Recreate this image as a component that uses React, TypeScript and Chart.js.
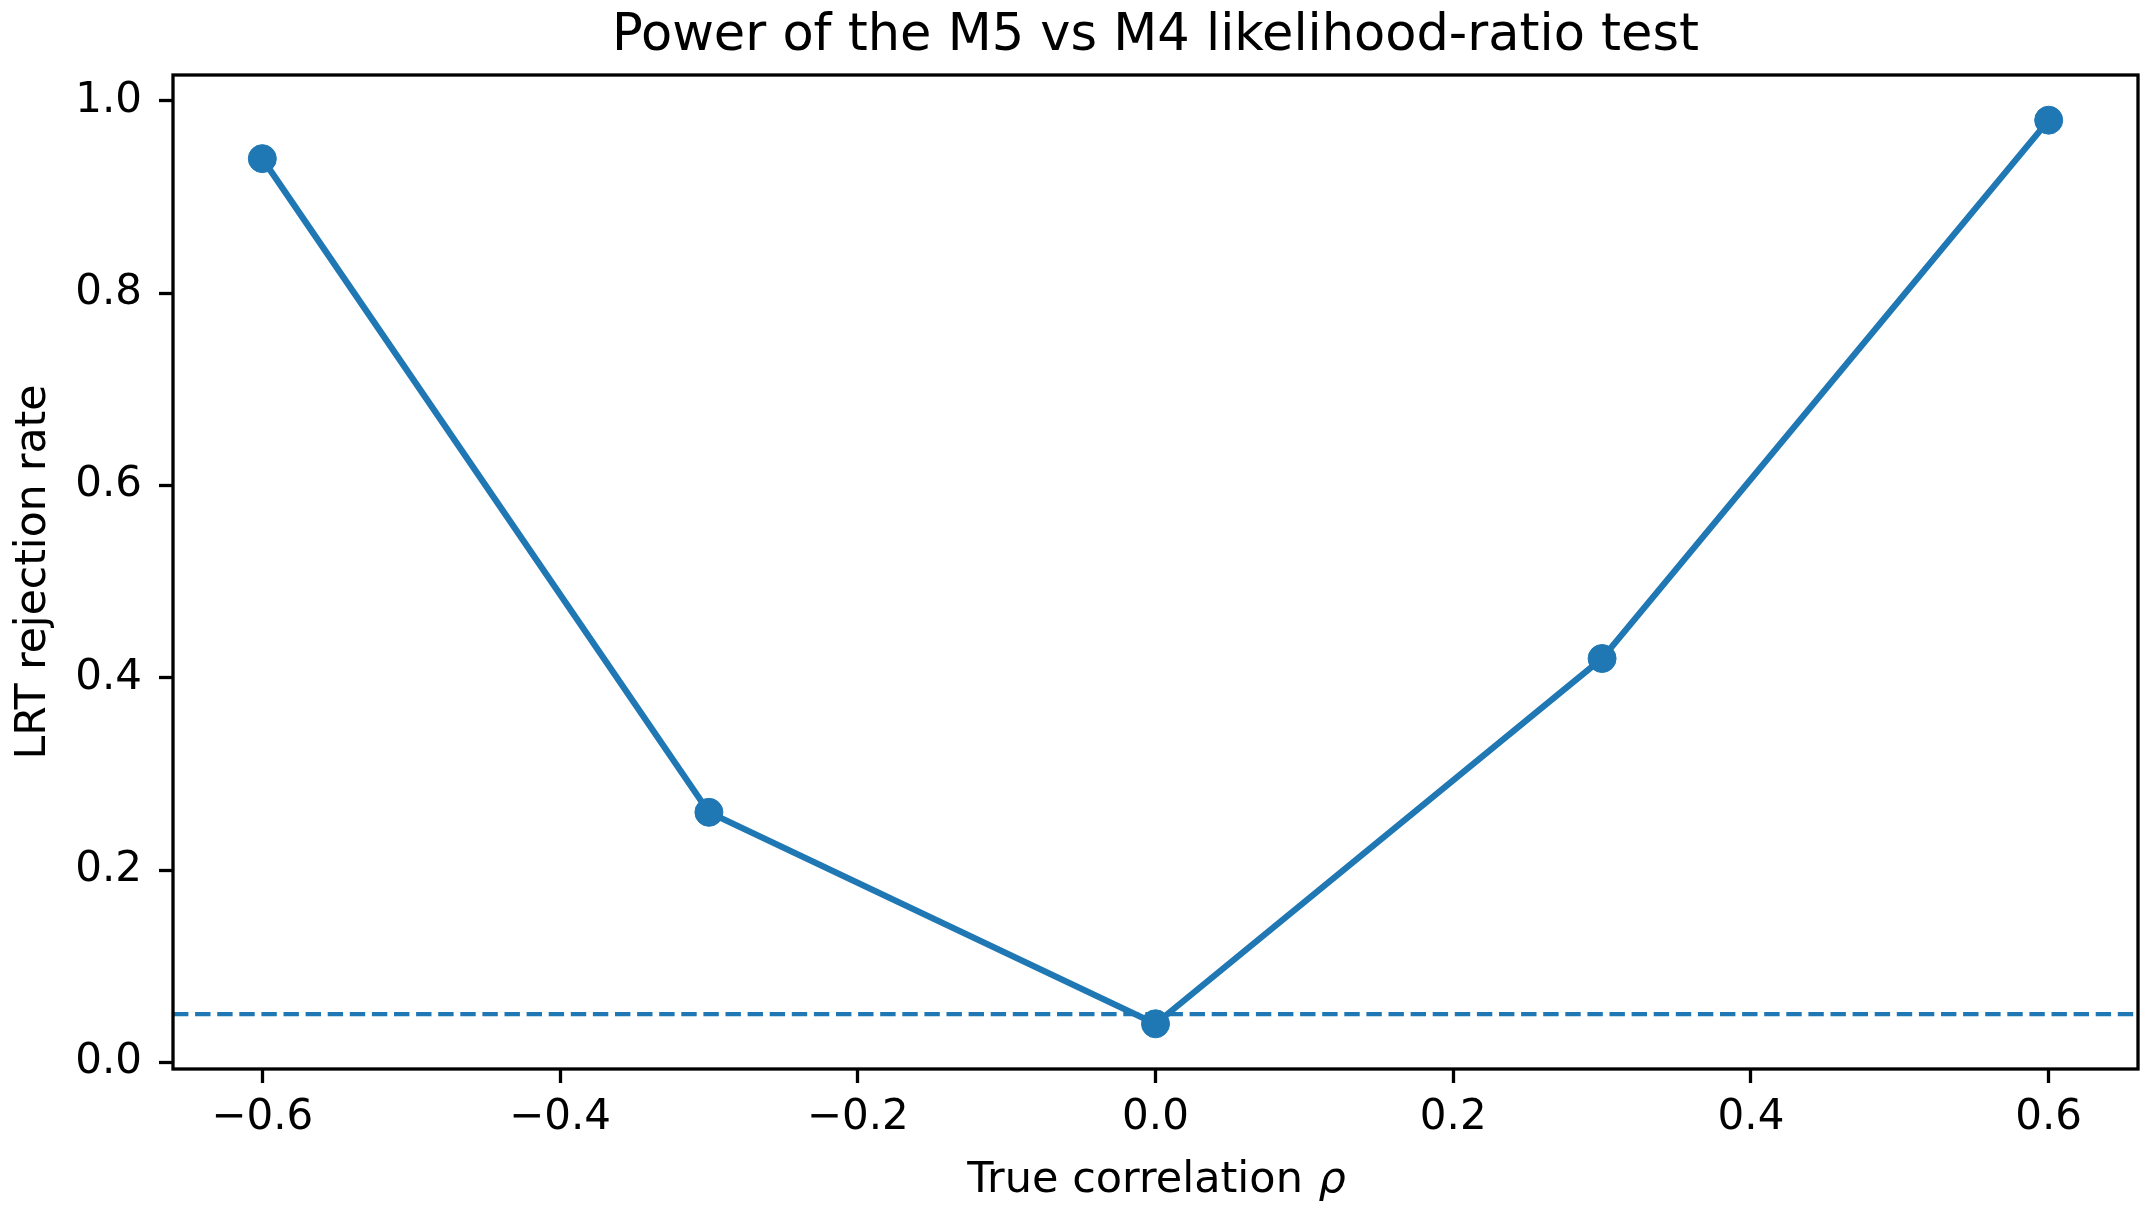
import { useEffect, useRef } from 'react';
import { Chart, registerables } from 'chart.js';

Chart.register(...registerables);

// data
const rho = [-0.6, -0.3, 0.0, 0.3, 0.6];
const rejectionRate = [0.94, 0.26, 0.04, 0.42, 0.98];
const alphaLevel = 0.05;

const xTicks = [-0.6, -0.4, -0.2, 0.0, 0.2, 0.4, 0.6];
const yTicks = [0.0, 0.2, 0.4, 0.6, 0.8, 1.0];
const xLimits = [-0.66, 0.66];
const yLimits = [-0.007, 1.027];

const title = 'Power of the M5 vs M4 likelihood-ratio test';
const xLabel = 'True correlation ';
const xLabelSymbol = 'ρ';
const yLabel = 'LRT rejection rate';

const C0 = '#1f77b4';
const FONT = '"DejaVu Sans", sans-serif';

const fmt = (v: number) => (v < 0 ? '\u2212' : '') + Math.abs(v).toFixed(1);

// axes frame, title and x label (with italic rho)
const framePlugin = {
  id: 'frame',
  afterDatasetsDraw(chart: any) {
    const { ctx, chartArea } = chart;
    const { left, top, right, bottom } = chartArea;
    const cx = (left + right) / 2;
    ctx.save();
    ctx.strokeStyle = '#000';
    ctx.lineWidth = 3.3;
    ctx.strokeRect(left, top, right - left, bottom - top);

    ctx.fillStyle = '#000';
    ctx.textBaseline = 'alphabetic';
    ctx.textAlign = 'center';
    ctx.font = `51px ${FONT}`;
    ctx.fillText(title, cx, 50);

    ctx.font = `43px ${FONT}`;
    const w1 = ctx.measureText(xLabel).width;
    ctx.font = `italic 43px ${FONT}`;
    const w2 = ctx.measureText(xLabelSymbol).width;
    const x0 = cx - (w1 + w2) / 2;
    ctx.textAlign = 'left';
    ctx.font = `43px ${FONT}`;
    ctx.fillText(xLabel, x0, 1192);
    ctx.font = `italic 43px ${FONT}`;
    ctx.fillText(xLabelSymbol, x0 + w1 + 2, 1192);
    ctx.restore();
  },
};

export default function App() {
  const canvasRef = useRef<HTMLCanvasElement>(null);
  const chartRef = useRef<Chart | null>(null);

  useEffect(() => {
    if (!canvasRef.current) return;
    if (chartRef.current) chartRef.current.destroy();

    const tickGrid = {
      drawOnChartArea: false,
      drawTicks: true,
      tickLength: 14,
      tickWidth: 3.3,
      tickColor: '#000',
    };

    chartRef.current = new Chart(canvasRef.current, {
      type: 'line',
      data: {
        datasets: [
          {
            label: 'rejection rate',
            data: rho.map((x, i) => ({ x, y: rejectionRate[i] })),
            borderColor: C0,
            backgroundColor: C0,
            borderWidth: 6.25,
            pointRadius: 14,
            pointBorderWidth: 1,
            pointBackgroundColor: C0,
            pointBorderColor: C0,
            tension: 0,
          },
          {
            label: 'alpha',
            data: xLimits.map((x) => ({ x, y: alphaLevel })),
            borderColor: C0,
            borderWidth: 4.2,
            borderDash: [15.4, 6.7],
            pointRadius: 0,
            tension: 0,
          },
        ],
      },
      options: {
        animation: false,
        responsive: false,
        devicePixelRatio: 1,
        layout: { padding: { top: 75, right: 14, left: 0, bottom: 0 } },
        plugins: {
          legend: { display: false },
          tooltip: { enabled: false },
          title: { display: false },
        },
        scales: {
          x: {
            type: 'linear',
            min: xLimits[0],
            max: xLimits[1],
            border: { display: false },
            grid: tickGrid,
            afterBuildTicks: (s: any) => {
              s.ticks = xTicks.map((value) => ({ value }));
            },
            afterFit: (s: any) => {
              s.height = 149;
            },
            ticks: {
              autoSkip: false,
              maxRotation: 0,
              padding: 10,
              color: '#000',
              font: { family: FONT, size: 42 },
              callback: (v: any) => fmt(Number(v)),
            },
          },
          y: {
            type: 'linear',
            min: yLimits[0],
            max: yLimits[1],
            border: { display: false },
            grid: tickGrid,
            afterBuildTicks: (s: any) => {
              s.ticks = yTicks.map((value) => ({ value }));
            },
            afterFit: (s: any) => {
              s.width = 173;
            },
            ticks: {
              autoSkip: false,
              padding: 17,
              color: '#000',
              font: { family: FONT, size: 42 },
              callback: (v: any) => fmt(Number(v)),
            },
            title: {
              display: true,
              text: yLabel,
              color: '#000',
              font: { family: FONT, size: 42.5 },
              padding: { top: 8, bottom: 0 },
            },
          },
        },
      },
      plugins: [framePlugin],
    });

    return () => {
      if (chartRef.current) {
        chartRef.current.destroy();
        chartRef.current = null;
      }
    };
  }, []);

  return (
    <div style={{ position: 'fixed', left: 0, top: 0, width: 2153, height: 1218, background: '#fff' }}>
      <canvas ref={canvasRef} width={2153} height={1218} style={{ display: 'block' }} />
    </div>
  );
}
